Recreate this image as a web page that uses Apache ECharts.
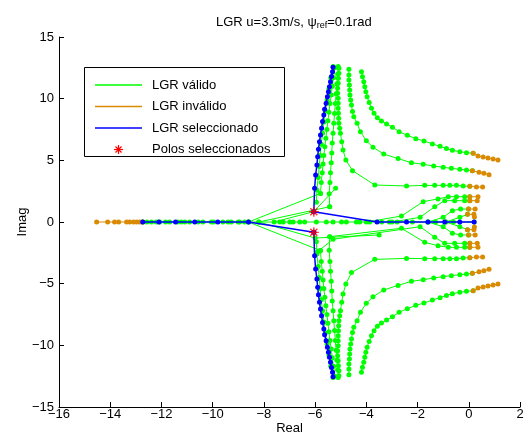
<!DOCTYPE html>
<html><head><meta charset="utf-8">
<script src="https://cdn.jsdelivr.net/npm/echarts@6/dist/echarts.min.js"></script>
<style>html,body{margin:0;padding:0;background:#fff}#c{width:529px;height:443px}</style>
</head><body><div id="c"></div>
<script>
// ---------- data ----------
const xTicks = [-16,-14,-12,-10,-8,-6,-4,-2,0,2];
const yTicks = [-15,-10,-5,0,5,10,15];

// upper half, valid (green) branches
const branch1Up = [[-4.19,12.19],[-4.15,11.78],[-4.10,11.38],[-4.06,10.97],[-4.02,10.57],[-3.97,10.16],[-3.89,9.68],[-3.80,9.22],[-3.70,8.81],[-3.57,8.46],[-3.41,8.19],[-3.21,7.95],[-2.98,7.68],[-2.72,7.32],[-2.40,7.03],[-2.07,6.76],[-1.75,6.57],[-1.42,6.33],[-1.12,6.14],[-0.87,5.95],[-0.64,5.81],[-0.35,5.70],[-0.09,5.62],[0.17,5.57]];
const branch2Up = [[-4.68,12.38],[-4.68,11.92],[-4.68,11.52],[-4.66,11.11],[-4.65,10.71],[-4.64,10.30],[-4.61,9.89],[-4.58,9.49],[-4.54,8.95],[-4.49,8.54],[-4.36,8.00],[-4.23,7.32],[-4.00,6.59],[-3.74,6.06],[-3.32,5.51],[-2.76,5.14],[-2.24,4.81],[-1.78,4.68],[-1.37,4.54],[-1.00,4.43],[-0.68,4.35],[-0.35,4.27],[-0.09,4.22],[0.14,4.16]];
const branch3Up = [[-5.07,12.46],[-5.07,12.06],[-5.09,11.65],[-5.10,11.25],[-5.12,10.84],[-5.12,10.44],[-5.10,10.03],[-5.10,9.63],[-5.10,9.22],[-5.09,8.81],[-5.08,8.41],[-5.07,8.00],[-5.04,7.60],[-5.01,7.19],[-4.96,6.51],[-4.91,5.84],[-4.80,5.03],[-4.54,4.16],[-3.67,3.00],[-2.43,2.92],[-1.72,2.97],[-1.33,2.97],[-1.00,2.97],[-0.74,2.97],[-0.48,2.97],[-0.22,2.92],[0.04,2.89]];
const g0Up = [[-5.95,1.6],[-5.93,2.6],[-5.88,3.6],[-5.84,4.5],[-5.80,5.4],[-5.76,6.3],[-5.71,7.2],[-5.66,8.1],[-5.60,9.0],[-5.53,9.9],[-5.46,10.8],[-5.39,11.7],[-5.30,12.6]];
const g1Up = [[-5.79,2.32],[-5.76,3.2],[-5.72,4.0],[-5.69,4.7],[-5.66,5.4],[-5.62,6.1],[-5.58,6.8],[-5.54,7.5],[-5.50,8.2],[-5.46,8.9],[-5.42,9.6],[-5.37,10.3],[-5.33,11.0],[-5.28,11.7],[-5.23,12.5]];
const g2Up = [[-5.43,1.24],[-5.45,2.3],[-5.42,3.2],[-5.40,4.0],[-5.37,4.8],[-5.35,5.6],[-5.33,6.4],[-5.30,7.2],[-5.27,8.0],[-5.24,8.8],[-5.21,9.6],[-5.18,10.4],[-5.15,11.2],[-5.12,12.0],[-5.10,12.6]];
const fanAUp = [[-4.0,0],[-2.63,0.48],[-1.78,1.65],[-1.2,1.87],[-0.8,2.05],[-0.48,2.05],[-0.16,2.05],[0.04,2.05]];
const fanBUp = [[-3.0,0],[-1.9,0.38],[-1.33,1.24],[-0.94,1.73],[-0.55,1.73],[-0.16,1.73],[0.04,1.73]];
const fanCUp = [[-1.6,0],[-1.0,0.38],[-0.64,0.92],[-0.32,1.05],[-0.01,1.05]];
const fanDUp = [[-0.9,0],[-0.35,0.38],[-0.05,0.62]];
const cross1Up = [[-8.6,0],[-5.79,2.32]];
const cross2Up = [[-8.2,0],[-5.43,1.24]];
const cross3Up = [[-7.6,0],[-6.05,0.84],[-5.2,2.73]];

// upper half, invalid (orange) tails
const tail1Up = [[0.17,5.57],[0.36,5.35],[0.56,5.27],[0.75,5.19],[0.95,5.11],[1.14,5.03]];
const tail2Up = [[0.14,4.16],[0.40,4.03],[0.59,3.95],[0.79,3.84]];
const tail3Up = [[0.04,2.89],[0.30,2.84],[0.54,2.84]];
const tailAUp = [[0.04,2.05],[0.36,2.05]];
const tailBUp = [[0.04,1.73],[0.33,1.73]];
const tailCUp = [[-0.01,1.05],[0.25,1.05]];
const tailDUp = [[-0.05,0.62],[0.2,0.62],[0.22,0.4]];

// lower half, valid (green) branches
const branch1Dn = [[-4.19,-12.19],[-4.15,-11.78],[-4.10,-11.38],[-4.06,-10.97],[-4.02,-10.57],[-3.97,-10.16],[-3.89,-9.68],[-3.80,-9.22],[-3.70,-8.81],[-3.57,-8.46],[-3.41,-8.19],[-3.21,-7.95],[-2.98,-7.68],[-2.72,-7.32],[-2.40,-7.03],[-2.07,-6.76],[-1.75,-6.57],[-1.42,-6.33],[-1.12,-6.14],[-0.87,-5.95],[-0.64,-5.81],[-0.35,-5.70],[-0.09,-5.62],[0.17,-5.57]];
const branch2Dn = [[-4.68,-12.38],[-4.68,-11.92],[-4.68,-11.52],[-4.66,-11.11],[-4.65,-10.71],[-4.64,-10.30],[-4.61,-9.89],[-4.58,-9.49],[-4.54,-8.95],[-4.49,-8.54],[-4.36,-8.00],[-4.23,-7.32],[-4.00,-6.59],[-3.74,-6.06],[-3.32,-5.51],[-2.76,-5.14],[-2.24,-4.81],[-1.78,-4.68],[-1.37,-4.54],[-1.00,-4.43],[-0.68,-4.35],[-0.35,-4.27],[-0.09,-4.22],[0.14,-4.16]];
const branch3Dn = [[-5.07,-12.46],[-5.07,-12.06],[-5.09,-11.65],[-5.10,-11.25],[-5.12,-10.84],[-5.12,-10.44],[-5.10,-10.03],[-5.10,-9.63],[-5.10,-9.22],[-5.09,-8.81],[-5.08,-8.41],[-5.07,-8.00],[-5.04,-7.60],[-5.01,-7.19],[-4.96,-6.51],[-4.91,-5.84],[-4.80,-5.03],[-4.58,-4.10],[-3.67,-3.03],[-2.43,-2.95],[-1.72,-2.97],[-1.33,-2.97],[-1.00,-2.97],[-0.74,-2.97],[-0.48,-2.97],[-0.22,-2.92],[0.04,-2.89]];
const g0Dn = [[-5.95,-1.6],[-5.93,-2.6],[-5.88,-3.6],[-5.84,-4.5],[-5.80,-5.4],[-5.76,-6.3],[-5.71,-7.2],[-5.66,-8.1],[-5.60,-9.0],[-5.53,-9.9],[-5.46,-10.8],[-5.39,-11.7],[-5.30,-12.6]];
const g1Dn = [[-5.79,-2.32],[-5.76,-3.2],[-5.72,-4.0],[-5.69,-4.7],[-5.66,-5.4],[-5.62,-6.1],[-5.58,-6.8],[-5.54,-7.5],[-5.50,-8.2],[-5.46,-8.9],[-5.42,-9.6],[-5.37,-10.3],[-5.33,-11.0],[-5.28,-11.7],[-5.23,-12.5]];
const g2Dn = [[-5.43,-1.19],[-5.45,-2.3],[-5.42,-3.2],[-5.40,-4.0],[-5.37,-4.8],[-5.35,-5.6],[-5.33,-6.4],[-5.30,-7.2],[-5.27,-8.0],[-5.24,-8.8],[-5.21,-9.6],[-5.18,-10.4],[-5.15,-11.2],[-5.12,-12.0],[-5.10,-12.6]];
const fanADn = [[-5.43,-1.19],[-2.63,-0.51],[-1.72,-1.65],[-1.2,-1.92],[-0.8,-2.05],[-0.48,-2.05],[-0.16,-2.05],[0.04,-2.05]];
const fanBDn = [[-5.9,-2.4],[-5.3,-1.4],[-1.9,-0.38],[-1.33,-1.24],[-0.94,-1.73],[-0.55,-1.73],[-0.16,-1.73],[0.04,-1.73]];
const fanCDn = [[-1.6,0],[-1.0,-0.38],[-0.64,-0.92],[-0.32,-1.05],[-0.01,-1.05]];
const fanDDn = [[-0.9,0],[-0.35,-0.38],[-0.05,-0.62]];
const cross1Dn = [[-8.6,0],[-5.79,-2.32]];
const cross2Dn = [[-8.2,0],[-6.0,-1.3],[-3.5,-1.05]];

// lower half, invalid (orange) tails
const tail1Dn = [[0.17,-5.57],[0.36,-5.35],[0.56,-5.27],[0.75,-5.19],[0.95,-5.11],[1.14,-5.03]];
const tail2Dn = [[0.14,-4.16],[0.40,-4.03],[0.59,-3.95],[0.79,-3.84]];
const tail3Dn = [[0.04,-2.89],[0.30,-2.84],[0.54,-2.84]];
const tailADn = [[0.04,-2.05],[0.36,-2.05]];
const tailBDn = [[0.04,-1.73],[0.33,-1.73]];
const tailCDn = [[-0.01,-1.05],[0.25,-1.05]];
const tailDDn = [[-0.05,-0.62],[0.2,-0.62],[0.22,-0.4]];

// real axis
const realValid = [[-12.73,0],[-12.57,0],[-12.39,0],[-12.2,0],[-12.07,0],[-11.84,0],[-11.68,0],[-11.36,0],[-11.22,0],[-11.09,0],[-10.9,0],[-10.57,0],[-10.38,0],[-10.05,0],[-9.96,0],[-9.6,0],[-9.4,0],[-9.27,0],[-9.0,0],[-8.95,0],[-8.75,0],[-7.38,0],[-7.25,0],[-6.99,0],[-6.86,0],[-6.6,0],[-6.41,0],[-5.95,0],[-5.56,0],[-5.3,0],[-4.97,0],[-4.78,0],[-4.39,0],[-4.26,0],[-3.87,0],[-3.4,0],[-3.1,0],[-2.8,0],[-2.2,0],[-1.3,0],[-0.6,0],[0.21,0]];
const realInvalid = [[-14.53,0],[-14.1,0],[-13.83,0],[-13.67,0],[-13.36,0],[-13.24,0],[-13.09,0],[-12.97,0],[-12.85,0],[-12.73,0]];

// selected locus (blue)
const selUp = [[-6.05,0.84],[-6.02,2.73],[-5.98,3.81],[-5.93,4.62],[-5.90,5.30],[-5.87,5.89],[-5.83,6.51],[-5.79,7.06],[-5.75,7.60],[-5.71,8.14],[-5.66,8.68],[-5.63,9.14],[-5.57,9.63],[-5.52,10.16],[-5.48,10.57],[-5.44,10.97],[-5.40,11.38],[-5.36,11.79],[-5.32,12.19],[-5.30,12.54]];
const selDn = [[-6.05,-0.84],[-6.02,-2.73],[-5.98,-3.81],[-5.93,-4.62],[-5.90,-5.30],[-5.87,-5.89],[-5.83,-6.51],[-5.79,-7.06],[-5.75,-7.60],[-5.71,-8.14],[-5.66,-8.68],[-5.63,-9.14],[-5.57,-9.63],[-5.52,-10.16],[-5.48,-10.57],[-5.44,-10.97],[-5.40,-11.38],[-5.36,-11.79],[-5.32,-12.19],[-5.30,-12.54]];
const selRight = [[-6.05,0.84],[-3.58,0],[-2.43,0],[-1.59,0],[-0.94,0],[-0.35,0],[0.21,0]];
const selLeft = [[-12.73,0],[-12.1,0],[-11.45,0],[-10.7,0],[-9.8,0],[-8.6,0],[-6.05,-0.84]];

// selected poles (red)
const selectedPoles = [[-6.05,0.84],[-6.05,-0.84]];

// ---------- chart ----------
const GREEN = '#00ff00', ORANGE = '#d98a00', BLUE = '#0000ff', RED = '#ff0000';
const FONT = 'Liberation Sans';
const validList = [branch1Up,branch2Up,branch3Up,g0Up,g1Up,g2Up,fanAUp,fanBUp,fanCUp,fanDUp,cross1Up,cross2Up,cross3Up,
  branch1Dn,branch2Dn,branch3Dn,g0Dn,g1Dn,g2Dn,fanADn,fanBDn,fanCDn,fanDDn,cross1Dn,cross2Dn,realValid];
const invalidList = [tail1Up,tail2Up,tail3Up,tailAUp,tailBUp,tailCUp,tailDUp,
  tail1Dn,tail2Dn,tail3Dn,tailADn,tailBDn,tailCDn,tailDDn,realInvalid];
const selectedList = [selUp,selDn,selRight,selLeft];

function lineSeries(data, color, width, z, name) {
  return { type:'line', name:name, data:data, z:z, symbol:'circle', symbolSize:5,
    showSymbol:true, silent:true, animation:false, clip:false,
    lineStyle:{color:color, width:width}, itemStyle:{color:color} };
}
const series = [];
validList.forEach(d => series.push(lineSeries(d, GREEN, 1, 2, 'LGR válido')));
invalidList.forEach(d => series.push(lineSeries(d, ORANGE, 1, 3, 'LGR inválido')));
selectedList.forEach(d => series.push(lineSeries(d, BLUE, 1.5, 4, 'LGR seleccionado')));
const STAR = 'path://M4.3,0h1.4v10h-1.4z M0,4.3h10v1.4h-10z M1.0,2.0l1.0,-1.0l7,7l-1.0,1.0z M8.0,1.0l1.0,1.0l-7,7l-1.0,-1.0z';
series.push({ type:'scatter', name:'Polos seleccionados', data:selectedPoles, z:5, symbol:STAR, symbolSize:10,
  itemStyle:{color:RED}, silent:true, animation:false });

const minusFmt = v => String(v).replace('-', '\u2212');
const axisCommon = {
  axisLine:{show:true, onZero:false, lineStyle:{color:'#000', width:1}},
  axisTick:{show:true, inside:true, length:5, lineStyle:{color:'#000'}},
  splitLine:{show:false},
  nameLocation:'middle',
  nameMoveOverlap:false,
  nameTextStyle:{color:'#000', fontSize:13, fontFamily:FONT}
};
const chart = echarts.init(document.getElementById('c'), null, {renderer:'canvas'});
chart.setOption({
  animation:false,
  backgroundColor:'#fff',
  title:{
    text:'{a|LGR u=3.3m/s, ψ}{s|ref}{a|=0.1rad}',
    left:211, top:9,
    textStyle:{ fontWeight:'normal', rich:{
      a:{fontSize:13, fontFamily:FONT, fontWeight:'normal', color:'#000', lineHeight:16, verticalAlign:'middle'},
      s:{fontSize:9, fontFamily:FONT, fontWeight:'normal', color:'#000', lineHeight:9, verticalAlign:'bottom'}
    }}
  },
  grid:{left:59, right:9, top:37, bottom:36, containLabel:false},
  xAxis:Object.assign({type:'value', min:xTicks[0], max:xTicks[xTicks.length-1], interval:2,
    name:'Real', nameGap:15,
    axisLabel:{color:'#000', fontSize:13, fontFamily:FONT, margin:1, formatter:minusFmt}}, axisCommon),
  yAxis:Object.assign({type:'value', min:yTicks[0], max:yTicks[yTicks.length-1], interval:5,
    name:'Imag', nameGap:30,
    axisLabel:{color:'#000', fontSize:13, fontFamily:FONT, margin:5, formatter:minusFmt}}, axisCommon),
  graphic:[
    {type:'rect', z:100, shape:{x:84.5, y:67.5, width:200, height:89}, style:{fill:'#fff', stroke:'#000', lineWidth:1}},
    {type:'line', z:101, shape:{x1:95, y1:85, x2:142, y2:85}, style:{stroke:GREEN, lineWidth:1.5}},
    {type:'line', z:101, shape:{x1:95, y1:106.5, x2:142, y2:106.5}, style:{stroke:ORANGE, lineWidth:1.5}},
    {type:'line', z:101, shape:{x1:95, y1:128, x2:142, y2:128}, style:{stroke:BLUE, lineWidth:1.5}},
    {type:'line', z:101, shape:{x1:118.5, y1:145, x2:118.5, y2:154}, style:{stroke:RED, lineWidth:1.2}},
    {type:'line', z:101, shape:{x1:114, y1:149.5, x2:123, y2:149.5}, style:{stroke:RED, lineWidth:1.2}},
    {type:'line', z:101, shape:{x1:115.5, y1:146.5, x2:121.5, y2:152.5}, style:{stroke:RED, lineWidth:1.2}},
    {type:'line', z:101, shape:{x1:121.5, y1:146.5, x2:115.5, y2:152.5}, style:{stroke:RED, lineWidth:1.2}},
    {type:'text', z:101, x:152, y:85, style:{text:'LGR válido', fill:'#000', font:'13px "Liberation Sans"', verticalAlign:'middle'}},
    {type:'text', z:101, x:152, y:106.5, style:{text:'LGR inválido', fill:'#000', font:'13px "Liberation Sans"', verticalAlign:'middle'}},
    {type:'text', z:101, x:152, y:128, style:{text:'LGR seleccionado', fill:'#000', font:'13px "Liberation Sans"', verticalAlign:'middle'}},
    {type:'text', z:101, x:152, y:149.5, style:{text:'Polos seleccionados', fill:'#000', font:'13px "Liberation Sans"', verticalAlign:'middle'}}
  ],
  series:series
});
</script></body></html>
